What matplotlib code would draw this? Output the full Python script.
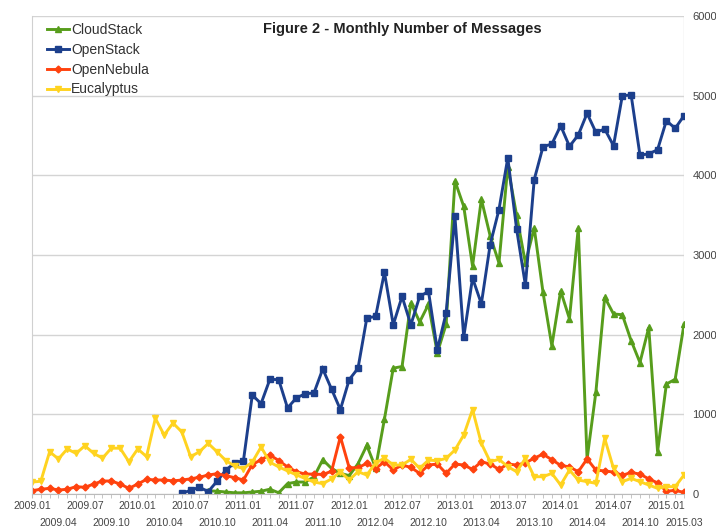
import matplotlib
matplotlib.use("Agg")
import matplotlib.pyplot as plt
import numpy as np

plt.rcParams['font.family'] = ['Liberation Sans', 'DejaVu Sans']

months = [f"{y}.{m:02d}" for y in range(2009, 2016) for m in range(1, 13)][:75]

N = None
cloudstack = [N]*20 + [
    40, 35, 25, 15, 15, 25, 35, 60, 15, 130,
    150, 150, 215, 430, 320, 260, 230, 380, 610, 330,
    940, 1580, 1600, 2400, 2160, 2380, 1770, 2130, 3930, 3610,
    2860, 3700, 3240, 2900, 4110, 3500, 2900, 3340, 2530, 1860,
    2550, 2200, 3340, 440, 1280, 2470, 2260, 2250, 1925, 1650,
    2090, 530, 1380, 1440, 2130]

openstack = [N]*17 + [
    10, 45, 85, 30, 160, 300, 390, 420, 1241, 1135,
    1440, 1435, 1080, 1205, 1258, 1268, 1570, 1315, 1060, 1435,
    1578, 2208, 2229, 2782, 2124, 2480, 2124, 2480, 2543, 1810,
    2271, 3486, 1969, 2711, 2388, 3130, 3570, 4219, 3327, 2620,
    3946, 4360, 4393, 4623, 4364, 4506, 4778, 4540, 4581, 4372,
    5000, 5008, 4255, 4268, 4322, 4686, 4590, 4749]

opennebula = [
    42, 59, 71, 50, 59, 92, 84, 125, 163, 163,
    125, 71, 125, 184, 176, 176, 165, 175, 190, 210,
    238, 255, 230, 205, 176, 370, 430, 490, 420, 340,
    280, 250, 250, 245, 285, 720, 330, 330, 385, 320,
    405, 301, 364, 334, 259, 364, 376, 259, 376, 364,
    309, 405, 376, 309, 376, 364, 390, 450, 500, 430,
    360, 340, 280, 440, 300, 290, 275, 235, 270, 250,
    190, 140, 35, 45, 20]

eucalyptus = [
    150, 160, 530, 440, 565, 510, 605, 510, 450, 575,
    575, 405, 565, 470, 950, 740, 890, 780, 468, 530,
    635, 530, 420, 350, 320, 400, 590, 400, 340, 290,
    240, 195, 150, 130, 190, 280, 176, 280, 238, 390,
    450, 364, 364, 435, 322, 426, 418, 447, 552, 740,
    1060, 635, 405, 435, 343, 280, 447, 217, 217, 259,
    113, 301, 175, 155, 134, 698, 322, 155, 196, 155,
    113, 71, 92, 92, 238]

series = [
    ("CloudStack", cloudstack, "#579d1c", "^", 4.5),
    ("OpenStack", openstack, "#1c3f8c", "s", 5.0),
    ("OpenNebula", opennebula, "#ff420e", "D", 3.5),
    ("Eucalyptus", eucalyptus, "#ffd320", "v", 4.0),
]

fig = plt.figure(figsize=(7.16, 5.29), dpi=100)
ax = fig.add_axes([32/716, 1-494/529, (684-32)/716, (494-16)/529])

x = np.arange(len(months))
for name, vals, col, mk, ms in series:
    y = np.array([np.nan if v is None else v for v in vals], dtype=float)
    ax.plot(x, y, color=col, lw=2.1, marker=mk, ms=ms, mec=col, mfc=col,
            label=name, solid_joinstyle='miter')

ax.set_xlim(0, len(months)-1)
ax.set_ylim(0, 6000)
ax.yaxis.tick_right()
ax.set_yticks(range(0, 6001, 1000))
ax.tick_params(axis='y', length=0, pad=6, labelsize=8, labelcolor='#444444')
ax.grid(axis='y', color='#d4d4d4', lw=1)
ax.set_axisbelow(True)

lab_idx = list(range(0, len(months), 3)) + [len(months)-1]
top_idx = [i for j, i in enumerate(lab_idx) if j % 2 == 0]
bot_idx = [i for j, i in enumerate(lab_idx) if j % 2 == 1]

ax.set_xticks(top_idx)
ax.set_xticklabels([months[i] for i in top_idx])
ax.set_xticks(x, minor=True)
ax.tick_params(axis='x', which='both', length=3, color='#bbbbbb', labelsize=7.5,
               labelcolor='#444444', pad=2)

sec = ax.secondary_xaxis('bottom')
sec.set_xticks(bot_idx)
sec.set_xticklabels([months[i] for i in bot_idx])
sec.tick_params(axis='x', length=0, labelsize=7.5, labelcolor='#444444', pad=17.5)
sec.spines['bottom'].set_visible(False)

for s in ['top', 'right']:
    ax.spines[s].set_visible(False)
ax.spines['left'].set_color('#d0d0d0')
ax.spines['bottom'].set_color('#bbbbbb')
ax.plot([len(months)-1]*2, [0, 6000], color='#e0e0e0', lw=1, zorder=0)

fig.text(402/716, 1-29/529, "Figure 2 - Monthly Number of Messages",
         ha='center', va='center', fontsize=10.5, fontweight='bold', color='#222222')

leg = ax.legend(loc='upper left', bbox_to_anchor=(47/716, 1-23/529),
                bbox_transform=fig.transFigure, frameon=False, fontsize=10,
                handlelength=1.6, handletextpad=0.15, labelspacing=0.42,
                borderaxespad=0, borderpad=0)
for txt in leg.get_texts():
    txt.set_color('#333333')

fig.savefig("out.png", dpi=100)
